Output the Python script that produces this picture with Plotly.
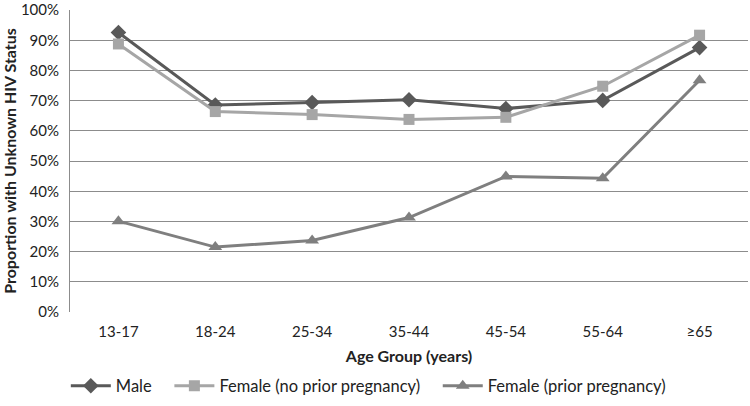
import plotly.graph_objects as go

categories = ["13-17", "18-24", "25-34", "35-44", "45-54", "55-64", "≥65"]
male = [92.6, 68.6, 69.4, 70.3, 67.4, 70.1, 87.6]
female_no_prior = [88.8, 66.4, 65.4, 63.8, 64.5, 74.8, 91.7]
female_prior = [30.1, 21.5, 23.7, 31.3, 44.9, 44.3, 76.8]
y_ticks = [0, 10, 20, 30, 40, 50, 60, 70, 80, 90, 100]
y_tick_labels = [f"{v}%" for v in y_ticks]
series_names = ["Male", "Female (no prior pregnancy)", "Female (prior pregnancy)"]

FONT = "Lato, Liberation Sans, sans-serif"
PAD = "\u00a0\u00a0\u00a0"

fig = go.Figure()
fig.add_trace(go.Scatter(
    x=categories, y=male, name=series_names[0] + PAD, mode="lines+markers",
    line=dict(color="#595959", width=3),
    marker=dict(symbol="diamond", size=12, color="#595959")))
fig.add_trace(go.Scatter(
    x=categories, y=female_no_prior, name=series_names[1] + PAD, mode="lines+markers",
    line=dict(color="#a6a6a6", width=3),
    marker=dict(symbol="square", size=11, color="#a6a6a6")))
fig.add_trace(go.Scatter(
    x=categories, y=female_prior, name=series_names[2], mode="lines+markers",
    line=dict(color="#7f7f7f", width=3),
    marker=dict(symbol="triangle-up", size=12, color="#7f7f7f")))

fig.update_layout(
    width=750, height=406,
    margin=dict(l=70, r=2, t=10, b=94, autoexpand=False),
    plot_bgcolor="white", paper_bgcolor="white",
    font=dict(family=FONT, size=15, color="#222222"),
    showlegend=True,
    legend=dict(orientation="h", x=0.44, xanchor="center",
                y=-0.245, yanchor="middle",
                font=dict(size=16.5), traceorder="normal", itemwidth=40),
    xaxis=dict(type="category", range=[-0.5, 6.5], showgrid=False, zeroline=False,
               showline=False, ticks="outside", ticklen=6, tickcolor="rgba(0,0,0,0)",
               tickfont=dict(size=15),
               title=dict(text="<b>Age Group (years)</b>", font=dict(size=16), standoff=11)),
    yaxis=dict(range=[0, 100.05], tickvals=y_ticks, ticktext=y_tick_labels,
               showgrid=True, gridcolor="#8c8c8c", gridwidth=1, zeroline=False,
               showline=True, linecolor="#8c8c8c", linewidth=1,
               ticks="", ticklabelstandoff=7,
               tickfont=dict(size=15),
               title=dict(text="<b>Proportion with Unknown HIV Status</b>", font=dict(size=16), standoff=9)),
)

fig.write_html("out.html", config={"displayModeBar": False},
               post_script="document.body.style.margin='0';")
